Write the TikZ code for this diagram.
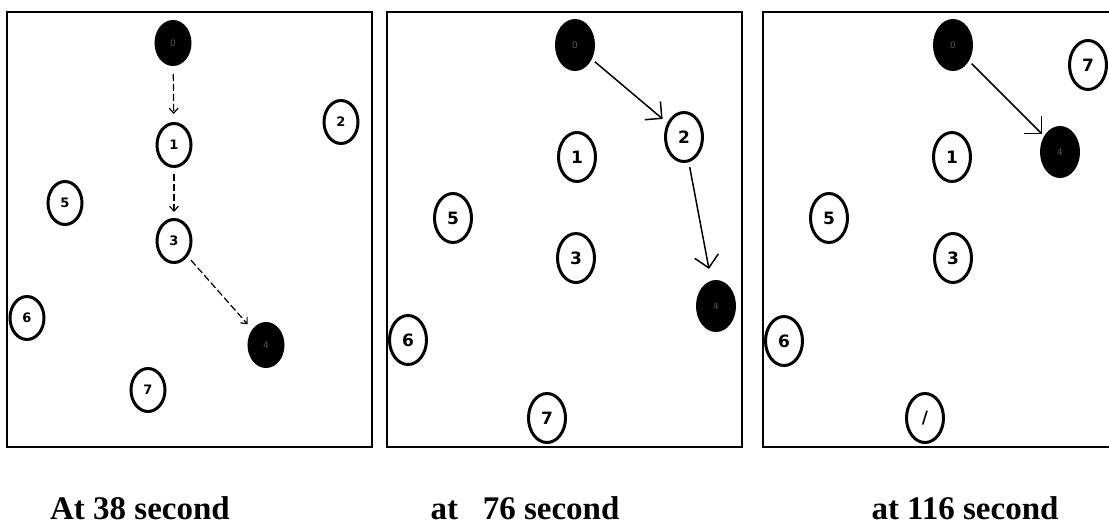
\documentclass[tikz,border=0pt]{standalone}
\usepackage{fontspec}
\setmainfont{Liberation Serif}
\newfontfamily\numfont{DejaVu Sans}
\usetikzlibrary{arrows.meta,shapes.geometric}
\tikzset{
  panel/.style={draw=black, line width=2.8pt},
  nd/.style={draw=black, line width=3pt, ellipse, inner sep=0pt, font=\numfont\bfseries\fontsize{13}{13}\selectfont},
  nodeA/.style={nd, minimum width=34pt, minimum height=43pt},
  nodeB/.style={nd, minimum width=37pt, minimum height=49pt, font=\numfont\bfseries\fontsize{17}{17}\selectfont},
  filledA/.style={nodeA, fill=black, text=black!65, font=\numfont\fontsize{9}{9}\selectfont},
  filledB/.style={nodeB, fill=black, text=black!65, font=\numfont\fontsize{9}{9}\selectfont},
  dasharrow/.style={line width=1.2pt, dash pattern=on 7pt off 3pt, -{Straight Barb[length=5pt,width=9pt]}},
  solidarrow/.style={line width=1.5pt, -{Straight Barb[length=12pt,width=24pt,line width=1.5pt]}},
  caption/.style={font=\bfseries\fontsize{33}{33}\selectfont, anchor=base, inner sep=0pt}
}
\begin{document}
\begin{tikzpicture}[x=1pt,y=-1pt]
\useasboundingbox (0,0) rectangle (1109,527);
% panels
\draw[panel] (7,12) rectangle (372,447);
\draw[panel] (387,12) rectangle (742,447);
\draw[panel] (763,12) rectangle (1116,447);
% panel 1
\node[filledA] (a0) at (173,43) {0};
\node[nodeA] (a1) at (174,145) {1};
\node[nodeA] (a2) at (341,122) {2};
\node[nodeA] (a5) at (65,203) {5};
\node[nodeA] (a3) at (174,241) {3};
\node[nodeA] (a6) at (27,318) {6};
\node[filledA] (a4) at (266,345) {4};
\node[nodeA] (a7) at (148,390) {7};
\draw[dasharrow, shorten <=8pt, shorten >=8pt] (a0) -- (a1);
\draw[dasharrow, shorten <=6pt, shorten >=6pt] (a1) -- (a3);
\draw[dasharrow, shorten <=5pt, shorten >=7pt] (a3) -- (a4);
% panel 2
\node[filledB] (b0) at (575,45) {0};
\node[nodeB] (b2) at (684,137) {2};
\node[nodeB] (b1) at (577,157) {1};
\node[nodeB] (b5) at (453,218) {5};
\node[nodeB] (b3) at (576,258) {3};
\node[filledB] (b4) at (716,306) {4};
\node[nodeB] (b6) at (408,340) {6};
\node[nodeB] (b7) at (547,418) {7};
\draw[solidarrow, shorten <=4pt, shorten >=6pt] (b0) -- (b2);
\draw[solidarrow, shorten <=5pt, shorten >=12pt] (b2) -- (b4);
% panel 3
\node[filledB] (c0) at (953,45) {0};
\node[nodeB] (c2) at (1088,65) {7};
\node[filledB] (c4) at (1060,152) {4};
\node[nodeB] (c1) at (952,157) {1};
\node[nodeB] (c5) at (829,218) {5};
\node[nodeB] (c3) at (953,258) {3};
\node[nodeB] (c6) at (784,341) {6};
\node[nodeB] (c7) at (925,418) {/};
\draw[solidarrow, shorten <=4pt, shorten >=3pt] (c0) -- (c4);
% captions
\node[caption] (t1) at (140,519) {At 38 second};
\node[caption] (t2) at (525,519) {at\ \ \ 76 second};
\node[caption] (t3) at (965,519) {at 116 second};
\end{tikzpicture}
\end{document}
